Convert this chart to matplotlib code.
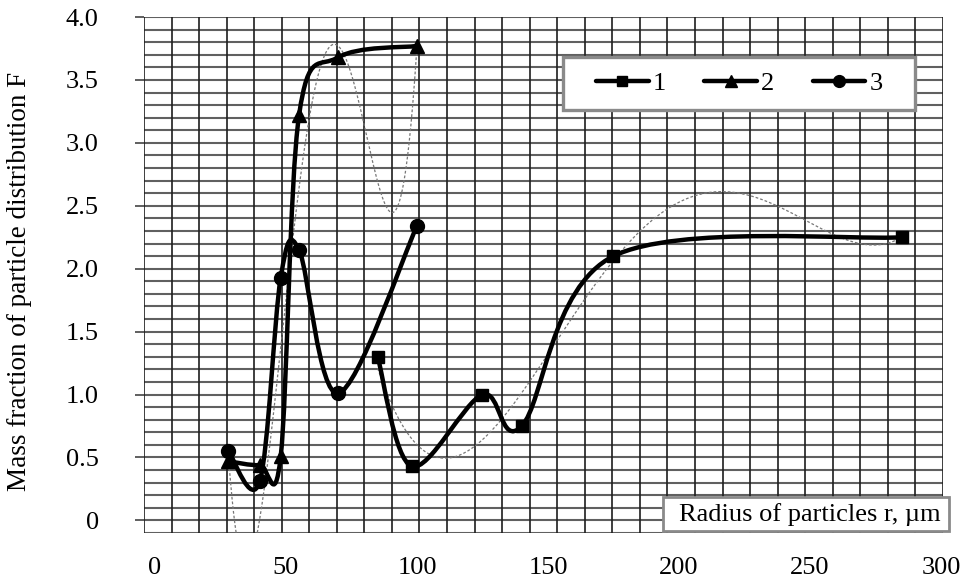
import numpy as np
import matplotlib
matplotlib.use("Agg")
import matplotlib.pyplot as plt
from matplotlib.path import Path
from matplotlib.patches import PathPatch, Rectangle
from matplotlib.lines import Line2D

plt.rcParams["font.family"] = ["Liberation Serif", "DejaVu Serif"]

# series 1 (squares)
r1 = [85, 98, 125, 140, 175, 285]
f1 = [1.30, 0.43, 1.00, 0.75, 2.10, 2.25]
# series 2 (triangles)
r2 = [28, 40, 48, 55, 70, 100]
f2 = [0.47, 0.44, 0.51, 3.22, 3.68, 3.77]
# series 3 (circles)
r3 = [28, 40, 48, 55, 70, 100]
f3 = [0.55, 0.31, 1.93, 2.15, 1.01, 2.34]

series_names = ["1", "2", "3"]
x_ticks = [0, 50, 100, 150, 200, 250, 300]
y_ticks = [0, 0.5, 1.0, 1.5, 2.0, 2.5, 3.0, 3.5, 4.0]
y_tick_labels = ["0", "0.5", "1.0", "1.5", "2.0", "2.5", "3.0", "3.5", "4.0"]

XLIM = (-4.2, 300.8)
YLIM = (-0.1, 4.0)
FS = 19


def smooth_path(x, y):
    """Excel-like smoothed line: cubic Bezier segments through the points."""
    p = np.column_stack([x, y]).astype(float)
    n = len(p)
    verts = [p[0]]
    codes = [Path.MOVETO]
    for i in range(n - 1):
        p0 = p[max(i - 1, 0)]
        p1, p2 = p[i], p[i + 1]
        p3 = p[min(i + 2, n - 1)]
        verts += [p1 + (p2 - p0) / 6, p2 - (p3 - p1) / 6, p2]
        codes += [Path.CURVE4] * 3
    return Path(verts, codes)


def trend(ax, x, y, deg):
    coef = np.polyfit(x, y, deg)
    xs = np.linspace(min(x), max(x), 400)
    ax.plot(xs, np.polyval(coef, xs), color="#777777", lw=0.9,
            ls=(0, (2.2, 1.6)), zorder=2)


fig = plt.figure(figsize=(9.61, 5.81), dpi=100)
ax = fig.add_axes([0.1498, 0.0826, 0.8315, 0.8881])
ax.set_xlim(*XLIM)
ax.set_ylim(*YLIM)

# grid-paper background
for yv in np.linspace(YLIM[0], YLIM[1], 42):
    ax.axhline(yv, color="#606060", lw=1.5, zorder=0.5)
for xv in np.linspace(XLIM[0], XLIM[1], 30):
    ax.axvline(xv, color="#1e1e1e", lw=1.2, zorder=0.6)
for s in ax.spines.values():
    s.set_visible(False)

# polynomial trendlines
trend(ax, r2, f2, 4)
trend(ax, r1, f1, 4)

markers = ["s", "^", "o"]
sizes = [8.5, 10, 10]
for (x, y), m, ms in zip([(r1, f1), (r2, f2), (r3, f3)], markers, sizes):
    ax.add_patch(PathPatch(smooth_path(x, y), fill=False, ec="black",
                           lw=3.2, capstyle="round", joinstyle="round", zorder=3))
    ax.plot(x, y, ls="none", marker=m, ms=ms, color="black", zorder=4)

ax.set_xticks(x_ticks)
ax.set_yticks(y_ticks)
ax.set_yticklabels(y_tick_labels)
ax.tick_params(axis="x", length=0, pad=17, labelsize=FS)
ax.tick_params(axis="y", direction="out", length=6.5, width=1.2,
               color="#444444", pad=26, labelsize=FS)
ax.set_ylabel("Mass fraction of particle distribution F", fontsize=19.5)
ax.yaxis.set_label_coords(-0.140, 0.487)

# legend box
ax.add_patch(Rectangle((0.5244, 0.8198), 0.4406, 0.1027, transform=ax.transAxes,
                       fc="white", ec="#8a8a8a", lw=2.4, zorder=5))
handles = [Line2D([], [], color="black", lw=3.2, marker=m, ms=ms * 0.85,
                  solid_capstyle="round") for m, ms in zip(markers, sizes)]
ax.legend(handles, series_names, loc="center", bbox_to_anchor=(0.745, 0.871),
          ncol=3, frameon=False, fontsize=FS, handlelength=2.0,
          handletextpad=0.15, columnspacing=1.45, numpoints=1).set_zorder(6)

# axis title box
ax.add_patch(Rectangle((0.650, 0.004), 0.358, 0.066, transform=ax.transAxes,
                       fc="white", ec="#8a8a8a", lw=2.0, zorder=5, clip_on=False))
ax.text(0.833, 0.036, "Radius of particles r, \u00b5m", transform=ax.transAxes,
        ha="center", va="center", fontsize=FS, zorder=6)

fig.savefig("out.png", dpi=100)
